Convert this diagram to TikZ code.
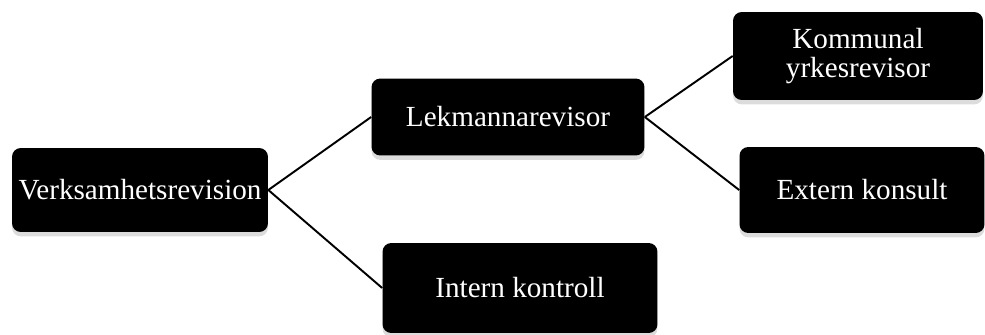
\documentclass[tikz,border=0pt]{standalone}
\usepackage{fontspec}
\setmainfont{Liberation Serif}
\usepackage{tikz}
\usetikzlibrary{calc,positioning,shadows}
\tikzset{
  box/.style={rectangle,rounded corners=5pt,fill=black,text=white,
    align=center,inner sep=1pt,
    font=\fontsize{16.6}{16}\selectfont,
    drop shadow={shadow xshift=0pt,shadow yshift=-2.5pt,fill=gray!55}},
  link/.style={line width=1.1pt},
  every node/.style={font=\small}
}

\begin{document}
\begin{tikzpicture}[x=0.02cm,y=0.02cm]
  \useasboundingbox (0,0) rectangle (985,335);
  % boxes
  \node[box,minimum width=5.12cm,minimum height=1.68cm] (verk) at (140,145) {Verksamhetsrevision};
  \node[box,minimum width=5.46cm,minimum height=1.54cm] (lek) at (508,218) {Lekmannarevisor};
  \node[box,minimum width=5.5cm,minimum height=1.8cm] (intern) at (520,47) {Intern kontroll};
  \node[box,minimum width=5.0cm,minimum height=1.76cm] (komm) at (858,279) {Kommunal\\yrkesrevisor};
  \node[box,minimum width=4.9cm,minimum height=1.72cm] (ext) at (862,145) {Extern konsult};
  % links
  \draw[link] (verk.east) -- (lek.west);
  \draw[link] (verk.east) -- (intern.west);
  \draw[link] (lek.east) -- (komm.west);
  \draw[link] (lek.east) -- (ext.west);
\end{tikzpicture}
\end{document}
